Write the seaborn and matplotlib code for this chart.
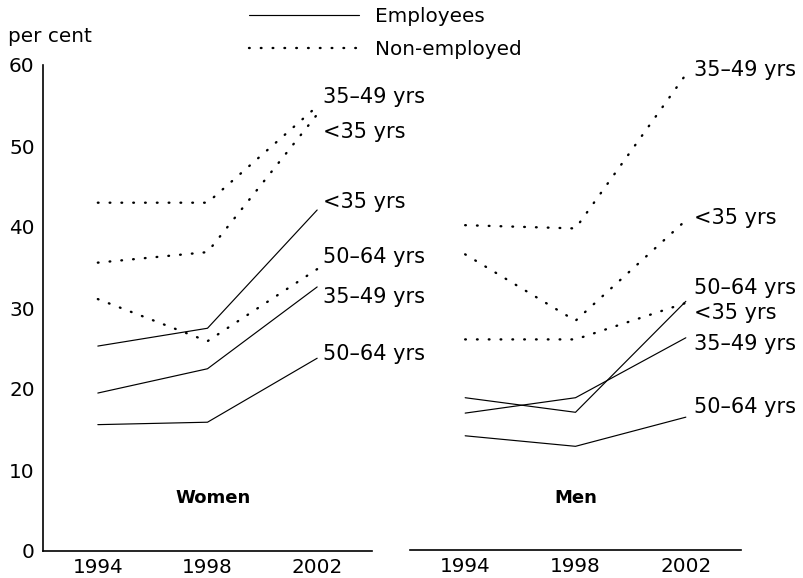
import matplotlib
matplotlib.use("Agg")
import matplotlib.pyplot as plt
from matplotlib.lines import Line2D
import seaborn as sns
import pandas as pd

# Survey years on the x axis
years = [1994, 1998, 2002]
year_labels = ["1994", "1998", "2002"]
y_ticks = [0, 10, 20, 30, 40, 50, 60]

# Women, per cent
women_emp_u35 = [25.3, 27.5, 42.1]
women_emp_35_49 = [19.5, 22.5, 32.6]
women_emp_50_64 = [15.6, 15.9, 23.8]
women_non_u35 = [35.6, 36.9, 53.9]
women_non_35_49 = [43.0, 43.0, 54.9]
women_non_50_64 = [31.1, 25.9, 34.8]

# Men, per cent
men_emp_u35 = [18.8, 17.0, 30.7]
men_emp_35_49 = [16.9, 18.8, 26.2]
men_emp_50_64 = [14.1, 12.8, 16.4]
men_non_u35 = [36.5, 28.3, 40.7]
men_non_35_49 = [40.1, 39.7, 58.7]
men_non_50_64 = [26.0, 26.0, 30.5]

age_groups = ["<35 yrs", "35–49 yrs", "50–64 yrs"]
statuses = ["Employees", "Non-employed"]
panels = ["Women", "Men"]

series = {
    ("Women", "Employees"): [women_emp_u35, women_emp_35_49, women_emp_50_64],
    ("Women", "Non-employed"): [women_non_u35, women_non_35_49, women_non_50_64],
    ("Men", "Employees"): [men_emp_u35, men_emp_35_49, men_emp_50_64],
    ("Men", "Non-employed"): [men_non_u35, men_non_35_49, men_non_50_64],
}

rows = []
for (panel, status), groups in series.items():
    for age, vals in zip(age_groups, groups):
        for yr, v in zip(years, vals):
            rows.append(dict(panel=panel, status=status, age=age, year=yr, value=v))
df = pd.DataFrame(rows)

# Where each end label sits vertically (data units), so that labels do not collide
label_y = {
    "Women": {("Non-employed", "35–49 yrs"): 56.0, ("Non-employed", "<35 yrs"): 51.7,
              ("Employees", "<35 yrs"): 43.1, ("Non-employed", "50–64 yrs"): 36.3,
              ("Employees", "35–49 yrs"): 31.4, ("Employees", "50–64 yrs"): 24.3},
    "Men": {("Non-employed", "35–49 yrs"): 59.2, ("Non-employed", "<35 yrs"): 41.0,
            ("Non-employed", "50–64 yrs"): 32.3, ("Employees", "<35 yrs"): 29.3,
            ("Employees", "35–49 yrs"): 25.4, ("Employees", "50–64 yrs"): 17.7},
}
label_dx = {"Women": 4, "Men": 6}
title_pos = {"Women": (1998.2, 6.6), "Men": (1998.0, 6.4)}

sns.set_style("white")
plt.rcParams["font.family"] = ["DejaVu Sans"]
plt.rcParams["text.color"] = "black"
plt.rcParams["xtick.color"] = "black"
plt.rcParams["ytick.color"] = "black"
FS = 14.4
LABEL_FS = 15

line_styles = {
    "Employees": dict(lw=0.85, linestyle="-"),
    "Non-employed": dict(lw=1.7, linestyle=(0, (0.3, 4.7)), dash_capstyle="round"),
}

fig = plt.figure(figsize=(8.04, 5.78), dpi=100)
W, H = 804, 578
ax_w = fig.add_axes([43 / W, 27 / H, 329 / W, 486 / H])
ax_m = fig.add_axes([410 / W, 28 / H, 331 / W, 486 / H])

for ax, panel in [(ax_w, "Women"), (ax_m, "Men")]:
    sub = df[df["panel"] == panel]
    for status in statuses:
        for age in age_groups:
            d = sub[(sub["status"] == status) & (sub["age"] == age)]
            sns.lineplot(data=d, x="year", y="value", ax=ax, color="black",
                         estimator=None, legend=False, **line_styles[status])
            ax.annotate(age, xy=(years[-1], label_y[panel][(status, age)]),
                        xytext=(label_dx[panel], 0), textcoords="offset points",
                        ha="left", va="center", fontsize=LABEL_FS, color="black",
                        annotation_clip=False)
    ax.set_xlim(1992, 2004)
    ax.set_ylim(0, 60)
    ax.set_xticks(years)
    ax.set_xticklabels(year_labels)
    ax.set_xlabel("")
    ax.set_ylabel("")
    ax.tick_params(axis="x", length=0, pad=5, labelsize=FS, colors="black")
    ax.tick_params(axis="y", length=0, pad=6, labelsize=FS, colors="black")
    tx, ty = title_pos[panel]
    ax.text(tx, ty, panel, ha="center", va="center", fontsize=13,
            fontweight="bold", color="black")
    for side in ["top", "right"]:
        ax.spines[side].set_visible(False)
    ax.spines["bottom"].set_linewidth(1.2)
    ax.spines["left"].set_linewidth(1.2)
    ax.spines["bottom"].set_color("black")
    ax.spines["left"].set_color("black")
    ax.patch.set_alpha(0)

ax_w.set_yticks(y_ticks)
ax_m.set_yticks([])
ax_m.spines["left"].set_visible(False)

fig.text(8 / W, 1 - 37 / H, "per cent", ha="left", va="center", fontsize=FS,
         color="black")

handles = [Line2D([], [], color="black", **line_styles[s]) for s in statuses]
fig.legend(handles, statuses, loc="upper left", bbox_to_anchor=(249 / W, 1 - 7 / H),
           frameon=False, fontsize=FS, handlelength=5.5, handletextpad=0.8,
           labelspacing=0.7, borderpad=0, borderaxespad=0, labelcolor="black")

fig.savefig("out.png", dpi=100)
